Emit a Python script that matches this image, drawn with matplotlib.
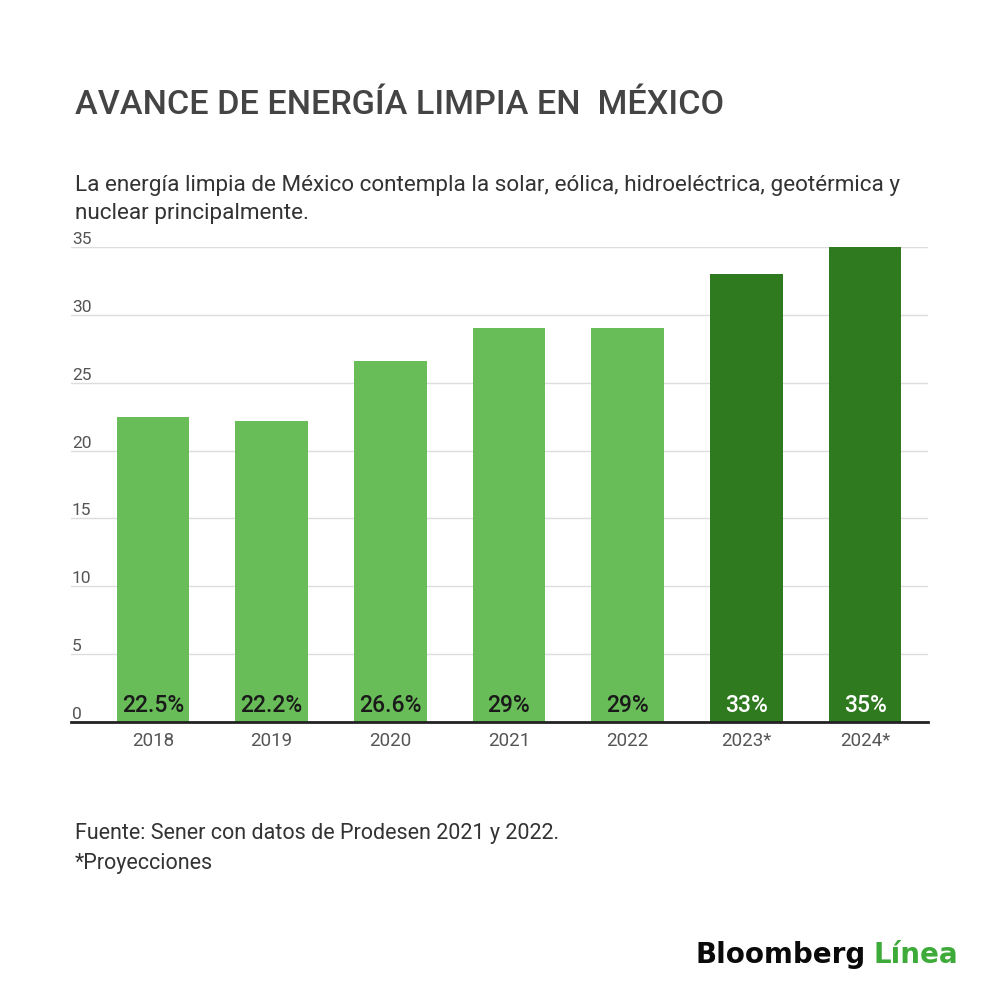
import matplotlib
matplotlib.use("Agg")
import matplotlib.pyplot as plt
import matplotlib.transforms as mtransforms

plt.rcParams['font.family'] = ['Roboto', 'DejaVu Sans']

years = ["2018", "2019", "2020", "2021", "2022", "2023*", "2024*"]
values = [22.5, 22.2, 26.6, 29, 29, 33, 35]
labels = ["22.5%", "22.2%", "26.6%", "29%", "29%", "33%", "35%"]
projected = [False, False, False, False, False, True, True]
yticks = [0, 5, 10, 15, 20, 25, 30, 35]

LIGHT = "#68bd58"
DARK = "#2f7a1f"

fig = plt.figure(figsize=(10, 10), dpi=100)
fig.patch.set_facecolor("white")

ax = fig.add_axes([0.071, 0.278, 0.857, 0.475])
x = list(range(len(years)))
colors = [DARK if p else LIGHT for p in projected]
ax.bar(x, values, width=0.61, color=colors, zorder=2)

ax.set_ylim(0, 35)
ax.set_xlim(-0.69, len(years) - 1 + 0.53)

for s in ["top", "right", "left"]:
    ax.spines[s].set_visible(False)
ax.spines["bottom"].set_color("#222222")
ax.spines["bottom"].set_linewidth(2)
ax.spines["bottom"].set_zorder(3)

ax.set_yticks(yticks)
ax.set_yticklabels([])
ax.tick_params(axis="y", length=0)
ax.grid(axis="y", color="#dddddd", linewidth=1, zorder=0)

ax.set_xticks(x)
ax.set_xticklabels(years, fontsize=13.5, color="#555555")
ax.tick_params(axis="x", length=0, pad=7)

trans = mtransforms.blended_transform_factory(ax.transAxes, ax.transData)
for v in yticks:
    ax.text(0.001, v, str(v), transform=trans, ha="left", va="bottom",
            fontsize=12.5, color="#555555")

for i, (lab, p) in enumerate(zip(labels, projected)):
    ax.text(i, 0.4, lab, ha="center", va="bottom", fontsize=16.5,
            fontweight="medium", color="white" if p else "#1a1a1a", zorder=4)

fig.text(0.075, 0.895, "AVANCE DE ENERGÍA LIMPIA EN  MÉXICO", fontsize=24.6,
         fontweight="medium", color="#444444", ha="left", va="center")
fig.text(0.075, 0.815, "La energía limpia de México contempla la solar, eólica, hidroeléctrica, geotérmica y",
         fontsize=16.2, color="#333333", ha="left", va="center")
fig.text(0.075, 0.787, "nuclear principalmente.",
         fontsize=16.2, color="#333333", ha="left", va="center")

fig.text(0.075, 0.167, "Fuente: Sener con datos de Prodesen 2021 y 2022.",
         fontsize=15.5, color="#333333", ha="left", va="center")
fig.text(0.075, 0.137, "*Proyecciones",
         fontsize=15.5, color="#333333", ha="left", va="center")

logo_font = ['DejaVu Sans']
t1 = fig.text(0.696, 0.045, "Bloomberg", fontsize=20, fontweight="bold",
              family=logo_font, color="#0a0a0a", ha="left", va="center")
fig.canvas.draw()
bb = t1.get_window_extent()
fig.text((bb.x1 + 7) / fig.bbox.width, 0.045, "Línea", fontsize=20,
         fontweight="bold", family=logo_font, color="#3daa3a",
         ha="left", va="center")

fig.savefig("out.png", dpi=100, facecolor="white")
